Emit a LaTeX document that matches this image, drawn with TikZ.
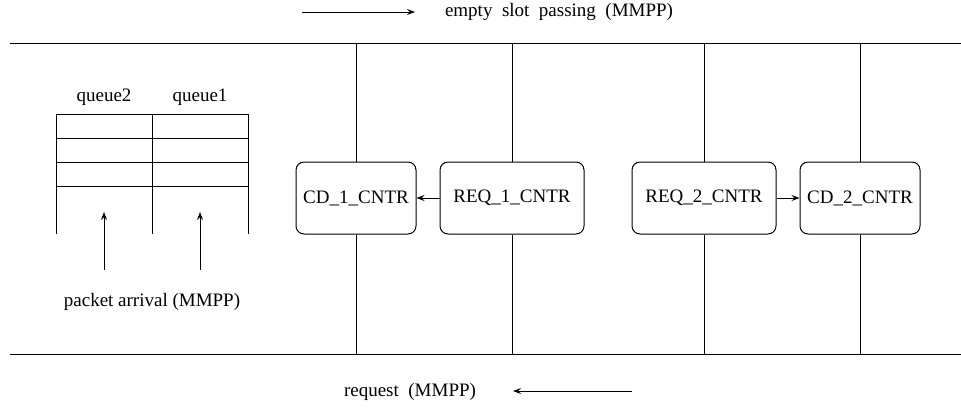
\documentclass[tikz,border=0pt]{standalone}
\usepackage{fontspec}
\setmainfont{Liberation Serif}
\usetikzlibrary{positioning,arrows.meta}
\tikzset{cntr/.style={draw, rounded corners=4pt, minimum height=36pt, inner sep=0pt},
 cdbox/.style={cntr, minimum width=60pt},
 reqbox/.style={cntr, minimum width=72pt},
 lbl/.style={font=\fontsize{9.5}{11}\selectfont},
 arr/.style={-{Stealth[length=4pt,width=3pt,inset=1.5pt]}},
 }

\begin{document}
\begin{tikzpicture}[x=0.5pt, y=-0.5pt, line width=0.5pt, every node/.style={lbl}]
        \useasboundingbox (0,0) rectangle (961,408);
        % ring bus
        \draw (10,43) -- (961,43);
        \draw (10,354) -- (961,354);
        \node[cdbox]  (cd1)  at (356,198) {CD\_1\_CNTR};
        \node[reqbox] (req1) at (512,198) {REQ\_1\_CNTR};
        \node[reqbox] (req2) at (704,198) {REQ\_2\_CNTR};
        \node[cdbox]  (cd2)  at (860,198) {CD\_2\_CNTR};
        \foreach \n in {cd1, req1, req2, cd2} {
            \coordinate (\n top) at (\n |- 0,43);
            \coordinate (\n bot) at (\n |- 0,354);
            \draw (\n.north) -- (\n top);
            \draw (\n.south) -- (\n bot);
        }
        \draw[arr] (req1) -- (cd1);
        \draw[arr] (req2) -- (cd2);
        % queues
        \foreach \y in {114, 138, 162, 186} {
            \draw (56,\y) -- (248,\y);
        }
        \foreach \x in {56, 152, 248} {
            \draw (\x,114) -- (\x,234);
        }
        \node (q2) at (104,97) {queue2};
        \node (q1) at (200,97) {queue1};
        \node (pa) at (152,302) {packet arrival (MMPP)};
        \coordinate (a2) at (104,212);
        \coordinate (a1) at (200,212);
        \draw[arr] (pa.north -| a2) ++(0,-16) -- (a2);
        \draw[arr] (pa.north -| a1) ++(0,-16) -- (a1);
        % directions
        \node (slot) at (559,12) {empty~~slot~~passing~~(MMPP)};
        \coordinate (s0) at (302,12);
        \coordinate (s1) at (415,12);
        \draw[arr] (s0) -- (s1);
        \node (reqt) at (410,392) {request~~(MMPP)};
        \coordinate (r0) at (632,391);
        \coordinate (r1) at (513,391);
        \draw[arr] (r0) -- (r1);
\end{tikzpicture}
\end{document}
